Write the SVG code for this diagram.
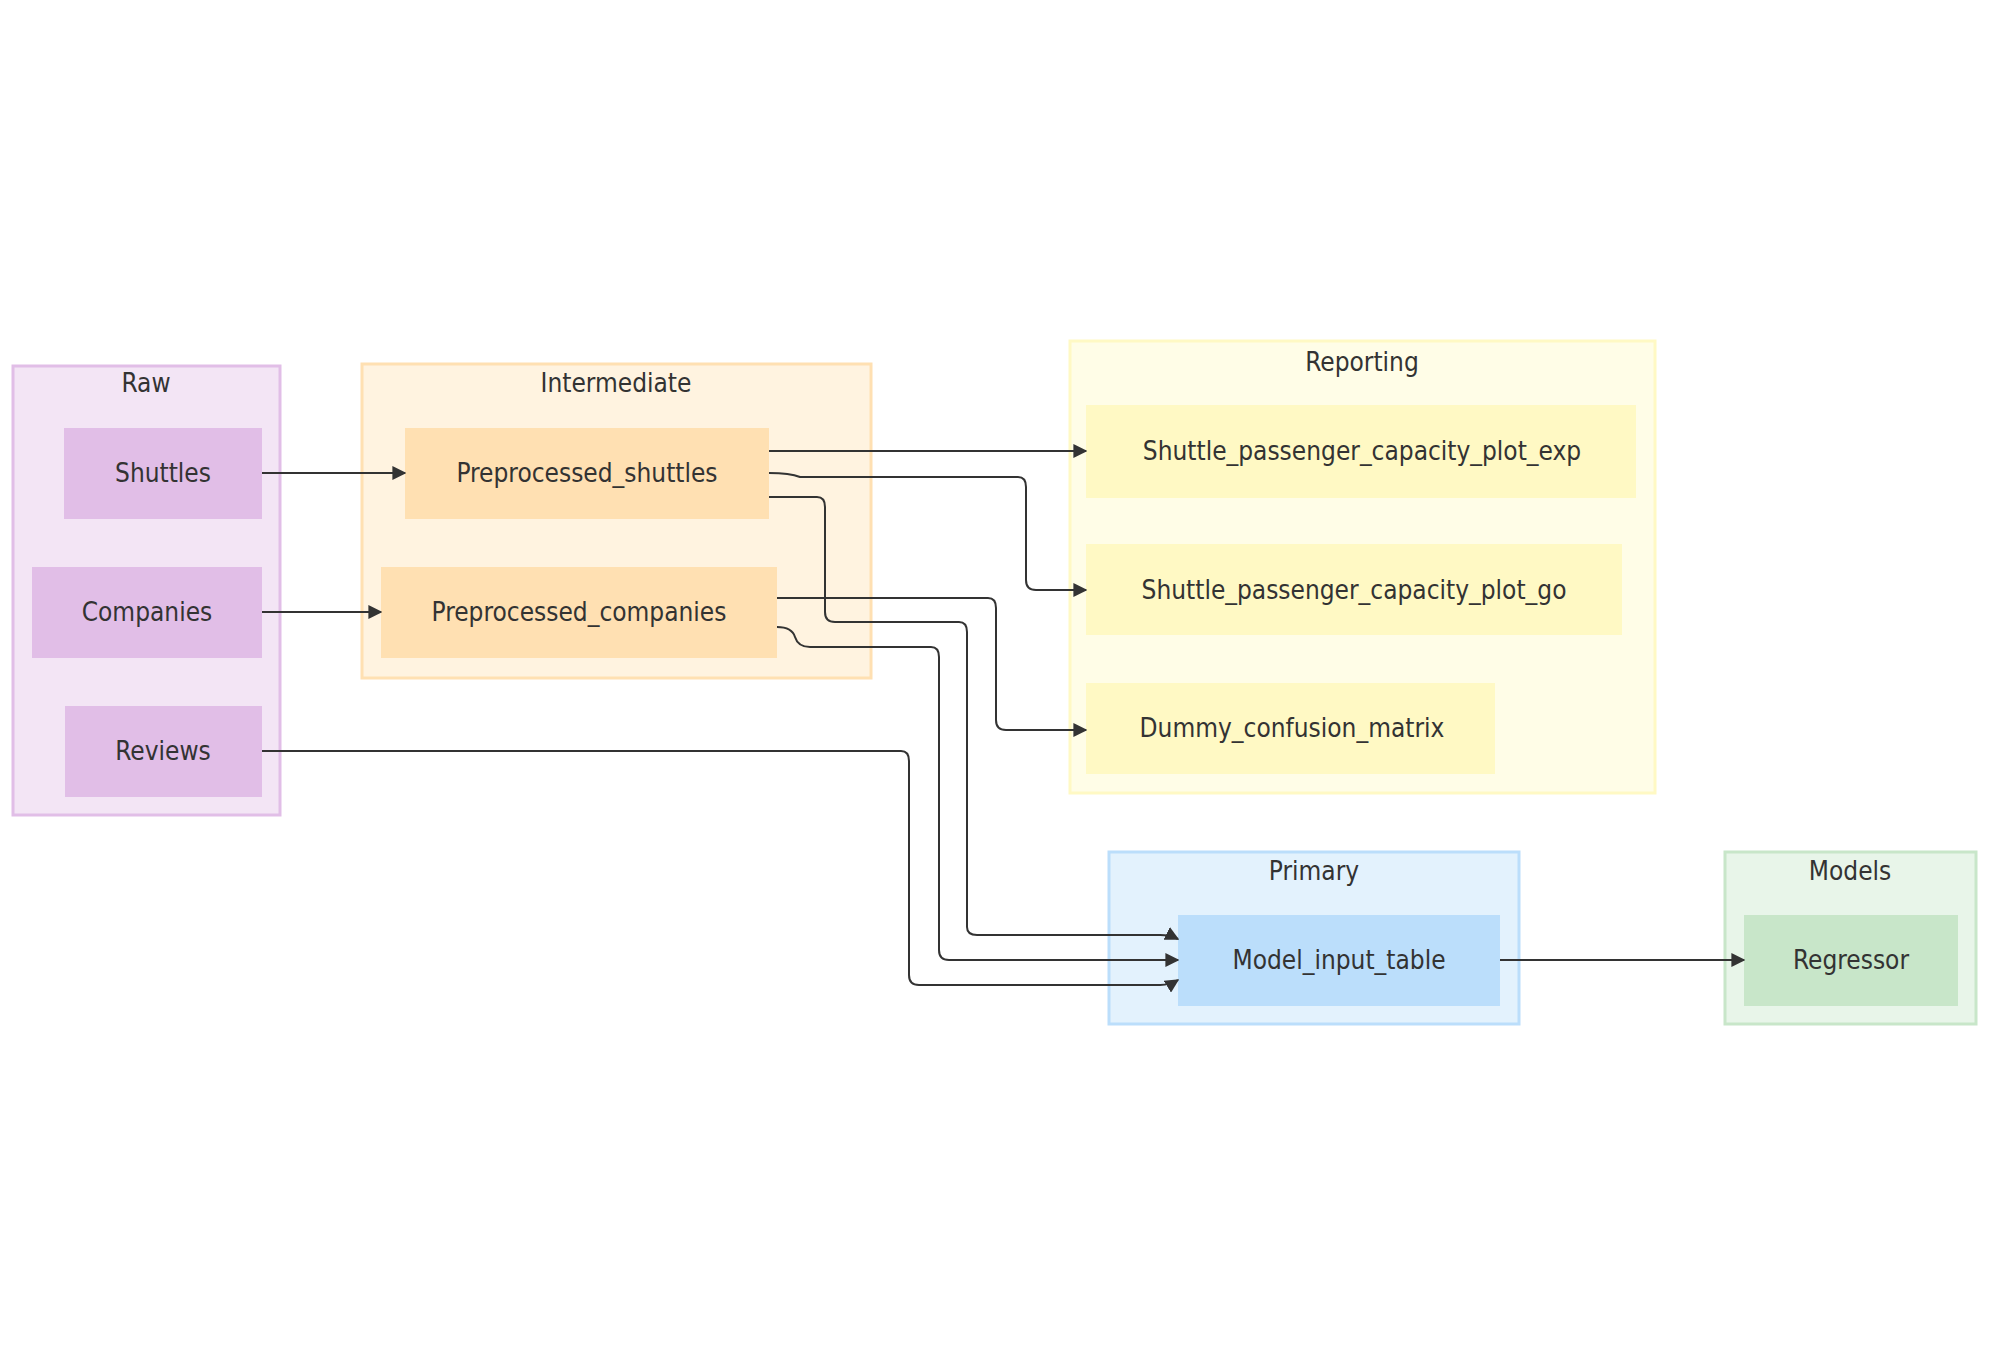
<svg xmlns="http://www.w3.org/2000/svg" width="1990" height="1368" viewBox="0 0 1990 1368">
<style>
text{font-family:"Trebuchet MS","DejaVu Sans Condensed","Liberation Sans",sans-serif;font-size:26px;fill:#333;text-anchor:middle;dominant-baseline:central}
.c{stroke-width:3}
.e{fill:none;stroke:#333;stroke-width:2}
</style>
<defs><marker id="a" viewBox="0 0 10 10" refX="9" refY="5" markerWidth="7" markerHeight="7" orient="auto"><path d="M0,0L10,5L0,10z" fill="#333"/></marker></defs>
<rect width="1990" height="1368" fill="#fff"/>
<g id="raw"><rect class="c" x="13" y="366" width="267" height="449" fill="#f3e5f5" stroke="#e1bee7"/><text x="146" y="383">Raw</text></g>
<g id="intermediate"><rect class="c" x="362" y="364" width="509" height="314" fill="#fff3e0" stroke="#ffe0b2"/><text x="616" y="383">Intermediate</text></g>
<g id="reporting"><rect class="c" x="1070" y="341" width="585" height="452" fill="#fffde7" stroke="#fff9c4"/><text x="1362" y="362">Reporting</text></g>
<g id="primary"><rect class="c" x="1109" y="852" width="410" height="172" fill="#e3f2fd" stroke="#bbdefb"/><text x="1314" y="871">Primary</text></g>
<g id="models"><rect class="c" x="1725" y="852" width="251" height="172" fill="#e8f5e9" stroke="#c8e6c9"/><text x="1850" y="871">Models</text></g>
<g id="shuttles"><rect x="64" y="428" width="198" height="91" fill="#e1bee7"/><text x="163" y="473">Shuttles</text></g>
<g id="companies"><rect x="32" y="567" width="230" height="91" fill="#e1bee7"/><text x="147" y="612">Companies</text></g>
<g id="reviews"><rect x="65" y="706" width="197" height="91" fill="#e1bee7"/><text x="163" y="751">Reviews</text></g>
<g id="pshuttles"><rect x="405" y="428" width="364" height="91" fill="#ffe0b2"/><text x="587" y="473">Preprocessed_shuttles</text></g>
<g id="pcompanies"><rect x="381" y="567" width="396" height="91" fill="#ffe0b2"/><text x="579" y="612">Preprocessed_companies</text></g>
<g id="exp"><rect x="1086" y="405" width="550" height="93" fill="#fff9c4"/><text x="1362" y="451">Shuttle_passenger_capacity_plot_exp</text></g>
<g id="go"><rect x="1086" y="544" width="536" height="91" fill="#fff9c4"/><text x="1354" y="590">Shuttle_passenger_capacity_plot_go</text></g>
<g id="dummy"><rect x="1086" y="683" width="409" height="91" fill="#fff9c4"/><text x="1292" y="728">Dummy_confusion_matrix</text></g>
<g id="mit"><rect x="1178" y="915" width="322" height="91" fill="#bbdefb"/><text x="1339" y="960">Model_input_table</text></g>
<g id="regressor"><rect x="1744" y="915" width="214" height="91" fill="#c8e6c9"/><text x="1851" y="960">Regressor</text></g>
<g id="connectors">
<path class="e" marker-end="url(#a)" d="M262,473H405"/>
<path class="e" marker-end="url(#a)" d="M262,612H381"/>
<path class="e" marker-end="url(#a)" d="M769,451H1086"/>
<path class="e" marker-end="url(#a)" d="M769,473Q790,473 800,477H1018Q1026,477 1026,487V580Q1026,590 1036,590H1086"/>
<path class="e" marker-end="url(#a)" d="M769,497H817Q825,497 825,507V612Q825,622 835,622H959Q967,622 967,632V927Q967,935 977,935H1160Q1170,935 1178,939"/>
<path class="e" marker-end="url(#a)" d="M777,598H988Q996,598 996,608V720Q996,730 1006,730H1086"/>
<path class="e" marker-end="url(#a)" d="M777,627Q792,627 795,637Q798,647 810,647H931Q939,647 939,657V950Q939,960 949,960H1178"/>
<path class="e" marker-end="url(#a)" d="M262,751H901Q909,751 909,761V975Q909,985 919,985H1160Q1170,985 1178,980"/>
<path class="e" marker-end="url(#a)" d="M1500,960H1744"/>
</g>
</svg>
